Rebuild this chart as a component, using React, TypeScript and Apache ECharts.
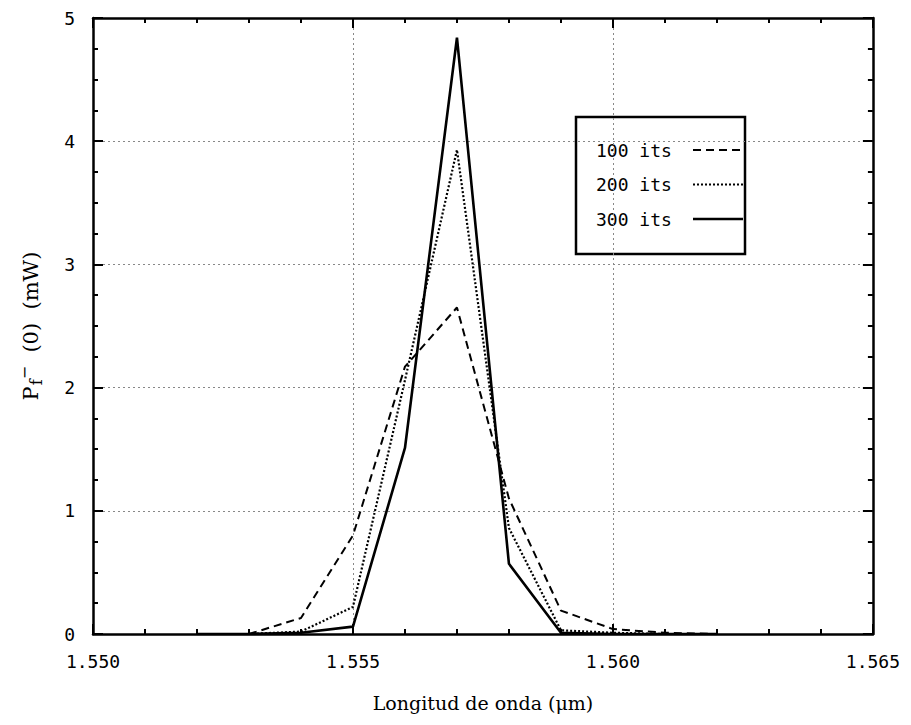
import React, { useEffect, useRef } from "react";
import * as echarts from "echarts";

const wavelengths = [1.552, 1.553, 1.554, 1.555, 1.556, 1.557, 1.558, 1.559, 1.56, 1.561, 1.562];
const its100 = [0.0, 0.0, 0.13, 0.8, 2.17, 2.65, 1.1, 0.19, 0.04, 0.01, 0.0];
const its200 = [0.0, 0.0, 0.02, 0.22, 2.06, 3.93, 0.86, 0.03, 0.01, 0.0, 0.0];
const its300 = [0.0, 0.0, 0.01, 0.06, 1.51, 4.84, 0.57, 0.01, 0.0, 0.0, 0.0];
const seriesNames = ["100 its", "200 its", "300 its"];
const xTicks = { min: 1.55, max: 1.565, step: 0.005 };
const yTicks = { min: 0, max: 5, step: 1 };

const MONO = "'DejaVu Sans Mono', monospace";
const SERIF = "'DejaVu Serif', serif";

export default function App() {
  const ref = useRef<HTMLDivElement>(null);
  useEffect(() => {
    if (!ref.current) return;
    const chart = echarts.init(ref.current, undefined, { renderer: "svg" });
    const pair = (ys: number[]) => wavelengths.map((x, i) => [x, ys[i]]);
    const styles = [
      { type: [8, 5] as any, width: 2 },
      { type: [2, 2] as any, width: 2.2 },
      { type: "solid" as any, width: 2.6 },
    ];
    const datas = [its100, its200, its300];
    const xBase = {
      type: "value" as const,
      min: xTicks.min,
      max: xTicks.max,
      interval: xTicks.step,
      axisLine: { show: true, onZero: false, lineStyle: { color: "#000", width: 2.5 } },
      axisTick: { show: true, inside: true, length: 10, lineStyle: { color: "#000", width: 2 } },
      minorTick: { show: true, splitNumber: 5, length: 5, lineStyle: { color: "#000", width: 2 } },
    };
    const yBase = {
      type: "value" as const,
      min: yTicks.min,
      max: yTicks.max,
      interval: yTicks.step,
      axisLine: { show: true, onZero: false, lineStyle: { color: "#000", width: 2.5 } },
      axisTick: { show: true, inside: true, length: 10, lineStyle: { color: "#000", width: 2 } },
      minorTick: { show: true, splitNumber: 4, length: 5, lineStyle: { color: "#000", width: 2 } },
    };
    const legendX = 568, legendY = 109, legendW = 169, legendH = 137;
    const legendChildren: any[] = [
      {
        type: "rect",
        shape: { x: legendX, y: legendY, width: legendW, height: legendH },
        style: { fill: "#fff", stroke: "#000", lineWidth: 2.5 },
      },
    ];
    seriesNames.forEach((n, i) => {
      const cy = legendY + 33 + i * 34.5;
      legendChildren.push({
        type: "text",
        x: legendX + 20,
        y: cy,
        style: { text: n, font: `500 18px ${MONO}`, fill: "#000", verticalAlign: "middle", textAlign: "left" },
      });
      legendChildren.push({
        type: "line",
        shape: { x1: legendX + 117, y1: cy, x2: legendX + 167, y2: cy },
        style: { stroke: "#000", lineWidth: styles[i].width, lineDash: styles[i].type === "solid" ? null : styles[i].type },
      });
    });
    chart.setOption({
      animation: false,
      backgroundColor: "#fff",
      grid: { left: 81, top: 10, right: 19, bottom: 75, containLabel: false },
      xAxis: [
        {
          ...xBase,
          position: "bottom",
          name: "Longitud de onda (μm)",
          nameLocation: "middle",
          nameGap: 59,
          nameTextStyle: { fontFamily: SERIF, fontSize: 19, color: "#000" },
          axisLabel: {
            margin: 18,
            fontFamily: MONO,
            fontSize: 18,
            color: "#000",
            formatter: (v: number) => v.toFixed(3),
          },
          splitLine: { show: true, lineStyle: { color: "#888", type: [2, 3], width: 1 } },
        },
        { ...xBase, position: "top", axisLabel: { show: false }, splitLine: { show: false } },
      ],
      yAxis: [
        {
          ...yBase,
          position: "left",
          name: "P{sub|f}{sup|−}  (0)  (mW)",
          nameLocation: "middle",
          nameGap: 48,
          nameTextStyle: {
            fontFamily: SERIF,
            fontSize: 21,
            color: "#000",
            rich: {
              sub: { fontFamily: SERIF, fontSize: 16, color: "#000", padding: [11, 0, 0, 1] },
              sup: { fontFamily: SERIF, fontSize: 16, color: "#000", padding: [0, 0, 13, 0] },
            },
          },
          axisLabel: { margin: 18, fontFamily: MONO, fontSize: 18, color: "#000" },
          splitLine: { show: true, lineStyle: { color: "#888", type: [2, 3], width: 1 } },
        },
        { ...yBase, position: "right", axisLabel: { show: false }, splitLine: { show: false } },
      ],
      series: datas.map((d, i) => ({
        name: seriesNames[i],
        type: "line",
        xAxisIndex: 0,
        yAxisIndex: 0,
        data: pair(d),
        symbol: "none",
        lineStyle: { color: "#000", width: styles[i].width, type: styles[i].type },
        z: 3 + i,
      })),
      graphic: [{ type: "group", children: legendChildren, z: 100 }],
    });
    return () => chart.dispose();
  }, []);
  return <div ref={ref} style={{ width: 895, height: 709 }} />;
}
